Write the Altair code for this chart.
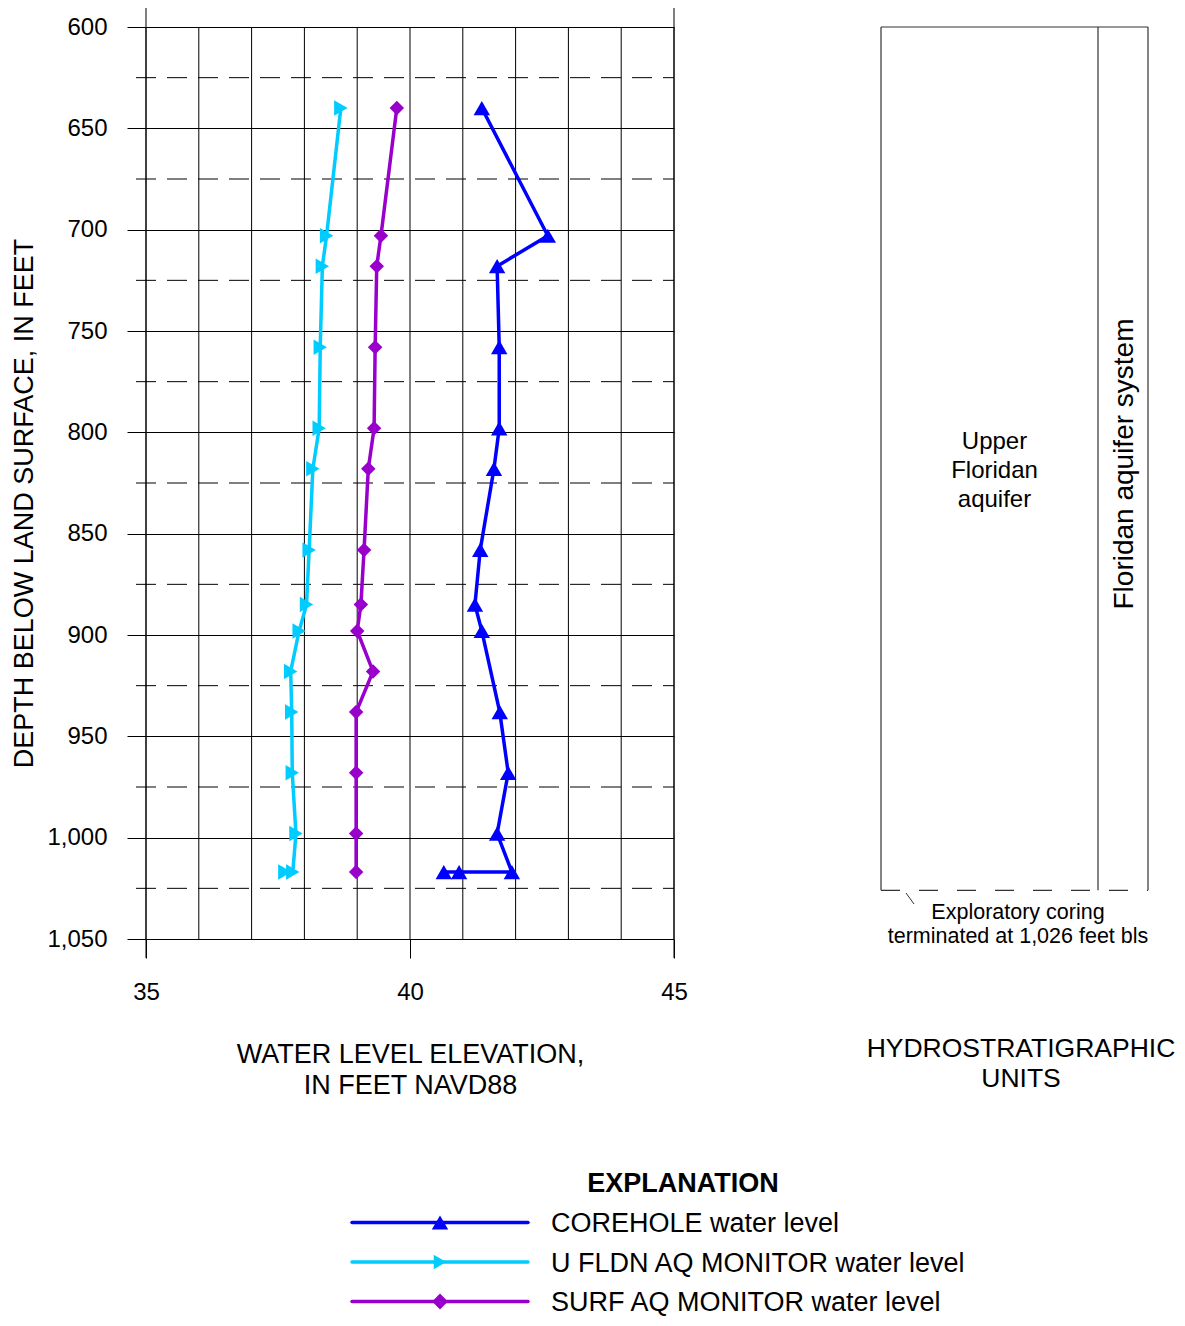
import altair as alt
import pandas as pd

FONT = "Liberation Sans, Arial, Helvetica, sans-serif"

# ---- data ----
series = ["COREHOLE water level", "U FLDN AQ MONITOR water level", "SURF AQ MONITOR water level"]
colors = ["#0000FF", "#00CCFF", "#9900CC"]
shapes = ["triangle-up", "triangle-right", "diamond"]
sizes = [270, 210, 250]

core_depth = [640, 703, 718, 758, 798, 818, 858, 885, 898, 938, 968, 998, 1017, 1017, 1017]
core_level = [41.36, 42.61, 41.65, 41.69, 41.69, 41.59, 41.33, 41.23, 41.36, 41.70, 41.86, 41.65, 41.93, 40.93, 40.64]

ufl_depth = [640, 703, 718, 758, 798, 818, 858, 885, 898, 918, 938, 968, 998, 1017, 1017]
ufl_level = [38.69, 38.42, 38.34, 38.30, 38.28, 38.16, 38.09, 38.04, 37.90, 37.74, 37.76, 37.77, 37.84, 37.78, 37.63]

surf_depth = [640, 703, 718, 758, 798, 818, 858, 885, 898, 918, 938, 968, 998, 1017]
surf_level = [39.75, 39.45, 39.37, 39.34, 39.32, 39.21, 39.13, 39.07, 39.00, 39.30, 38.98, 38.98, 38.98, 38.98]

x_ticks = [35, 40, 45]
x_grid = [35, 36, 37, 38, 39, 40, 41, 42, 43, 44, 45]
y_major = [600, 650, 700, 750, 800, 850, 900, 950, 1000, 1050]
y_minor = [625, 675, 725, 775, 825, 875, 925, 975, 1025]

unit_top = 600
unit_bottom = 1026  # exploratory coring terminated at 1,026 feet bls

rows = []
for name, ds, vs in zip(series, [core_depth, ufl_depth, surf_depth], [core_level, ufl_level, surf_level]):
    for i, (d, v) in enumerate(zip(ds, vs)):
        rows.append({"series": name, "depth": d, "level": v, "idx": i})
df = pd.DataFrame(rows)

# ---- scales / axes ----
x_scale = alt.Scale(domain=[35, 45], nice=False, zero=False)
y_scale = alt.Scale(domain=[600, 1050], nice=False, zero=False, reverse=True)
color_scale = alt.Scale(domain=series, range=colors)
shape_scale = alt.Scale(domain=series, range=shapes)
size_scale = alt.Scale(domain=series, range=sizes)

x_axis = alt.Axis(
    values=x_ticks, title=["WATER LEVEL ELEVATION,", "IN FEET NAVD88"],
    grid=False, domain=False, ticks=True, tickSize=19, tickColor="black", tickWidth=1,
    labelFontSize=24, labelFont=FONT, labelColor="black", labelPadding=22, labelFlush=False,
    titleFontSize=27, titleFont=FONT, titleFontWeight="normal", titleColor="black",
    titleX=264, titleY=102, titleBaseline="top", titleAlign="center", titleLineHeight=31,
)
y_axis = alt.Axis(
    values=y_major, format=",d", title="DEPTH BELOW LAND SURFACE, IN FEET",
    grid=True, gridColor="black", gridWidth=1, gridOpacity=1, domain=False,
    ticks=True, tickSize=19, tickColor="black", tickWidth=1,
    labelFontSize=24, labelFont=FONT, labelColor="black", labelPadding=20, labelFlush=False,
    titleFontSize=27, titleFont=FONT, titleFontWeight="normal", titleColor="black",
    titleX=-122, titleY=476, titleAngle=270, titleBaseline="middle", titleAlign="center",
)

X = alt.X("level:Q", scale=x_scale, axis=x_axis)
Y = alt.Y("depth:Q", scale=y_scale, axis=y_axis)

dummy = pd.DataFrame({"a": [0]})
layers = []

# vertical grid lines (interior)
vgrid = pd.DataFrame({"level": x_grid, "depth": [600] * len(x_grid), "depth2": [1050] * len(x_grid)})
layers.append(
    alt.Chart(vgrid).mark_rule(color="black", strokeWidth=1).encode(x=X, y=Y, y2=alt.Y2("depth2:Q"))
)
# boundary lines extended above and below
vbound = pd.DataFrame({"level": [x_grid[0], x_grid[-1]]})
layers.append(
    alt.Chart(vbound).mark_rule(color="black", strokeWidth=1).encode(
        x=X, y=alt.value(-19), y2=alt.value(931))
)
# minor dashed lines
minor = pd.DataFrame({"depth": y_minor})
layers.append(
    alt.Chart(minor).mark_rule(color="black", strokeWidth=1, strokeDash=[20, 11]).encode(
        y=Y, x=alt.value(-10), x2=alt.value(528))
)

# data lines and points
layers.append(
    alt.Chart(df).mark_line(strokeWidth=3.5).encode(
        x=X, y=Y,
        color=alt.Color("series:N", scale=color_scale, legend=None),
        order=alt.Order("idx:Q"),
    )
)
layers.append(
    alt.Chart(df).mark_point(filled=True, opacity=1, strokeWidth=0).encode(
        x=X, y=Y,
        color=alt.Color("series:N", scale=color_scale, legend=None),
        shape=alt.Shape("series:N", scale=shape_scale, legend=None),
        size=alt.Size("series:N", scale=size_scale, legend=None),
    )
)

# ---- hydrostratigraphic units panel ----
PANEL = "#333333"
unit = pd.DataFrame({"depth": [unit_top], "depth2": [unit_bottom]})
layers.append(
    alt.Chart(unit).mark_rule(color=PANEL, strokeWidth=1.2).encode(
        y=Y, x=alt.value(735), x2=alt.value(1002))
)
for px in [735, 952, 1002]:
    layers.append(
        alt.Chart(unit).mark_rule(color=PANEL, strokeWidth=1.2).encode(
            y=Y, y2=alt.Y2("depth2:Q"), x=alt.value(px))
    )
unit_b = pd.DataFrame({"depth": [unit_bottom]})
layers.append(
    alt.Chart(unit_b).mark_rule(color=PANEL, strokeWidth=1.2, strokeDash=[19, 19]).encode(
        y=Y, x=alt.value(735), x2=alt.value(1002))
)
layers.append(
    alt.Chart(dummy).mark_rule(color=PANEL, strokeWidth=1).encode(
        x=alt.value(760), x2=alt.value(768), y=alt.value(866), y2=alt.value(877))
)


def text_layer(txt, x, y, size, baseline="top", angle=0, weight="normal", line_height=None, align="center"):
    kw = dict(text=txt, font=FONT, fontSize=size, color="black", align=align,
              baseline=baseline, fontWeight=weight)
    if angle:
        kw["angle"] = angle
    if line_height:
        kw["lineHeight"] = line_height
    return alt.Chart(dummy).mark_text(**kw).encode(x=alt.value(x), y=alt.value(y))


layers.append(text_layer(["Upper", "Floridan", "aquifer"], 848.5, 402.6, 24, line_height=29))
layers.append(text_layer("Floridan aquifer system", 978.6, 437, 28, baseline="middle", angle=270))
layers.append(text_layer(["Exploratory coring", "terminated at 1,026 feet bls"], 872, 874.7, 21.5, line_height=24))
layers.append(text_layer(["HYDROSTRATIGRAPHIC", "UNITS"], 875, 1008.6, 26.5, line_height=30))

# ---- explanation (legend) ----
layers.append(text_layer("EXPLANATION", 537, 1157, 27, baseline="middle", weight="bold"))
for i, (name, col, shp, sz) in enumerate(zip(series, colors, shapes, sizes)):
    ly = 1195.5 + 39.5 * i
    one = pd.DataFrame({"series": [name]})
    layers.append(
        alt.Chart(one).mark_rule(color=col, strokeWidth=3.5, strokeCap="round").encode(
            x=alt.value(206), x2=alt.value(382), y=alt.value(ly))
    )
    layers.append(
        alt.Chart(one).mark_point(filled=True, opacity=1, strokeWidth=0, shape=shp, size=sz, color=col).encode(
            x=alt.value(294), y=alt.value(ly))
    )
    layers.append(text_layer(name, 405, ly + 1.6, 27, baseline="middle", align="left"))

chart = alt.layer(*layers).properties(
    width=528, height=912,
    autosize=alt.AutoSizeParams(type="none"),
    padding={"left": 138, "top": 19, "right": 503, "bottom": 379},
    background="white",
).configure_view(stroke=None)

chart.save("out.html", embed_options={"renderer": "svg", "actions": False})
